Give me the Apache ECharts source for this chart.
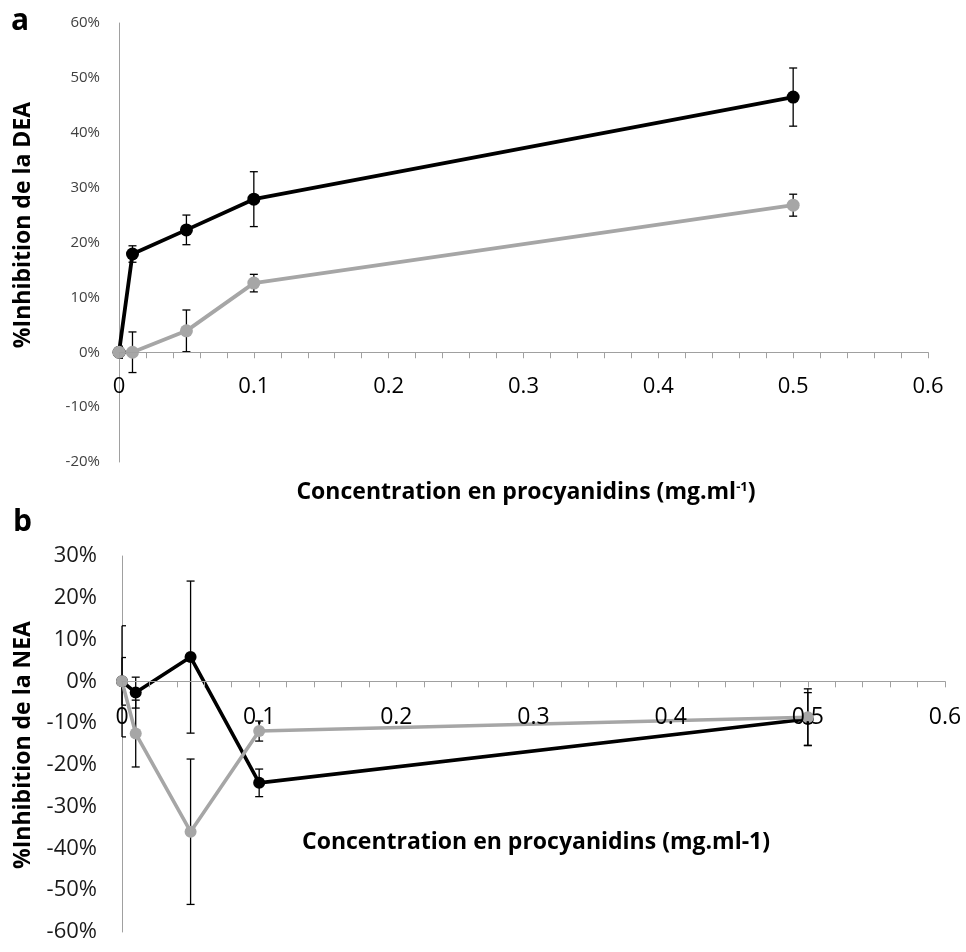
<!DOCTYPE html>
<html><head><meta charset="utf-8">
<script src="https://cdn.jsdelivr.net/npm/echarts@6/dist/echarts.min.js"></script>
<style>html,body{margin:0;padding:0;background:#fff}#c{width:966px;height:952px}</style>
</head><body><div id="c"></div>
<script>
const concentrations = [0, 0.01, 0.05, 0.1, 0.5];
const deaBlack = [0, 17.9, 22.3, 27.9, 46.5];
const deaBlackErr = [1.1, 1.5, 2.7, 5.0, 5.3];
const deaGray = [0, 0, 3.9, 12.6, 26.8];
const deaGrayErr = [0.5, 3.7, 3.8, 1.6, 2.0];
const neaBlack = [0, -2.7, 5.8, -24.3, -9.0];
const neaBlackErr = [13.3, 3.7, 18.2, 3.3, 6.3];
const neaGray = [0, -12.5, -36.0, -11.9, -8.6];
const neaGrayErr = [5.7, 8.0, 17.4, 2.4, 6.8];
const xTickLabels = ['0', '0.1', '0.2', '0.3', '0.4', '0.5', '0.6'];
const deaRange = [-20, 60];
const neaRange = [-60, 30];

const FONT = '"Open Sans", Lato, sans-serif';
const AXIS_GRAY = '#a0a0a0';
const SERIES_GRAY = '#a6a6a6';

const W = 966, H = 952;
const gridA = { left: 119, right: 38, top: 23, bottom: 490 };
const gridB = { left: 122, right: 21, top: 556, bottom: 20 };

function xLabel(v) {
  const i = Math.round(v * 10);
  return xTickLabels[i] !== undefined ? xTickLabels[i] : '';
}

function zeroOffset(grid, range) {
  const h = H - grid.top - grid.bottom;
  return -(0 - range[0]) / (range[1] - range[0]) * h;
}

function errSeries(gi, vals, errs) {
  return {
    type: 'custom', xAxisIndex: gi, yAxisIndex: gi, z: 1,
    data: concentrations.map((x, i) => [x, vals[i] - errs[i], vals[i] + errs[i]]),
    encode: { x: 0, y: [1, 2] },
    renderItem: (params, api) => {
      const lo = api.coord([api.value(0), api.value(1)]);
      const hi = api.coord([api.value(0), api.value(2)]);
      const w = 4;
      const left = params.coordSys.x;
      const st = { stroke: '#000', lineWidth: 1.3 };
      const x1 = Math.max(lo[0] - w, left);
      return { type: 'group', children: [
        { type: 'line', shape: { x1: lo[0], y1: lo[1], x2: hi[0], y2: hi[1] }, style: st },
        { type: 'line', shape: { x1: x1, y1: lo[1], x2: lo[0] + w, y2: lo[1] }, style: st },
        { type: 'line', shape: { x1: x1, y1: hi[1], x2: hi[0] + w, y2: hi[1] }, style: st }
      ]};
    }
  };
}

function lineSeries(gi, vals, color, size, width) {
  return {
    type: 'line', xAxisIndex: gi, yAxisIndex: gi, z: 3,
    data: concentrations.map((x, i) => [x, vals[i]]),
    symbol: 'circle', symbolSize: size,
    lineStyle: { color: color, width: width },
    itemStyle: { color: color },
    animation: false
  };
}

function xAxisDef(gi, fontSize, margin, offset) {
  return {
    gridIndex: gi, type: 'value', position: 'bottom', offset: offset,
    min: 0, max: 0.6, interval: 0.1, z: 10,
    axisLine: { show: true, onZero: false, lineStyle: { color: AXIS_GRAY, width: 1 } },
    axisTick: { show: true, inside: false, length: 6, lineStyle: { color: AXIS_GRAY } },
    minorTick: { show: true, splitNumber: 5, length: 6, lineStyle: { color: AXIS_GRAY } },
    splitLine: { show: false }, minorSplitLine: { show: false },
    axisLabel: { fontFamily: FONT, fontSize: fontSize, color: '#000', margin: margin, formatter: xLabel }
  };
}

function yAxisDef(gi, range, fontSize, margin, color) {
  return {
    gridIndex: gi, type: 'value', min: range[0], max: range[1], interval: 10,
    axisLine: { show: true, onZero: false, lineStyle: { color: AXIS_GRAY, width: 1 } },
    axisTick: { show: false },
    splitLine: { show: false },
    axisLabel: { fontFamily: FONT, fontSize: fontSize, color: color, margin: margin, formatter: '{value}%' }
  };
}

const chart = echarts.init(document.getElementById('c'), null, { renderer: 'canvas' });
chart.setOption({
  backgroundColor: '#fff',
  animation: false,
  grid: [
    Object.assign({ containLabel: false, outerBoundsMode: 'none' }, gridA),
    Object.assign({ containLabel: false, outerBoundsMode: 'none' }, gridB)
  ],
  xAxis: [xAxisDef(0, 22, 23, zeroOffset(gridA, deaRange)), xAxisDef(1, 23, 25, zeroOffset(gridB, neaRange))],
  yAxis: [yAxisDef(0, deaRange, 15, 19, '#404040'), yAxisDef(1, neaRange, 22, 25, '#1a1a1a')],
  series: [
    errSeries(0, deaBlack, deaBlackErr),
    errSeries(0, deaGray, deaGrayErr),
    lineSeries(0, deaBlack, '#000', 13, 3.8),
    lineSeries(0, deaGray, SERIES_GRAY, 13, 3.8),
    errSeries(1, neaBlack, neaBlackErr),
    errSeries(1, neaGray, neaGrayErr),
    lineSeries(1, neaBlack, '#000', 12, 3.6),
    lineSeries(1, neaGray, SERIES_GRAY, 12, 3.6)
  ],
  graphic: [
    { type: 'text', left: 11, top: 6, style: { text: 'a', font: 'bold 30px ' + FONT, fill: '#000' } },
    { type: 'text', left: 13, top: 507, style: { text: 'b', font: 'bold 30px ' + FONT, fill: '#000' } },
    { type: 'text', x: 23, y: 225, rotation: Math.PI / 2,
      style: { text: '%Inhibition de la DEA', font: 'bold 23px ' + FONT, fill: '#000', align: 'center', verticalAlign: 'middle' } },
    { type: 'text', x: 23, y: 745, rotation: Math.PI / 2,
      style: { text: '%Inhibition de la NEA', font: 'bold 23px ' + FONT, fill: '#000', align: 'center', verticalAlign: 'middle' } },
    { type: 'text', x: 526, y: 492,
      style: { text: 'Concentration en procyanidins (mg.ml{sup|-1})', font: 'bold 23px ' + FONT, fill: '#000', align: 'center', verticalAlign: 'middle',
        rich: { sup: { fontFamily: FONT, fontWeight: 'bold', fontSize: 13, verticalAlign: 'top', padding: [0, 0, 10, 0] } } } },
    { type: 'text', x: 536, y: 842,
      style: { text: 'Concentration en procyanidins (mg.ml-1)', font: 'bold 23px ' + FONT, fill: '#000', align: 'center', verticalAlign: 'middle' } }
  ]
});
</script>
</body></html>
